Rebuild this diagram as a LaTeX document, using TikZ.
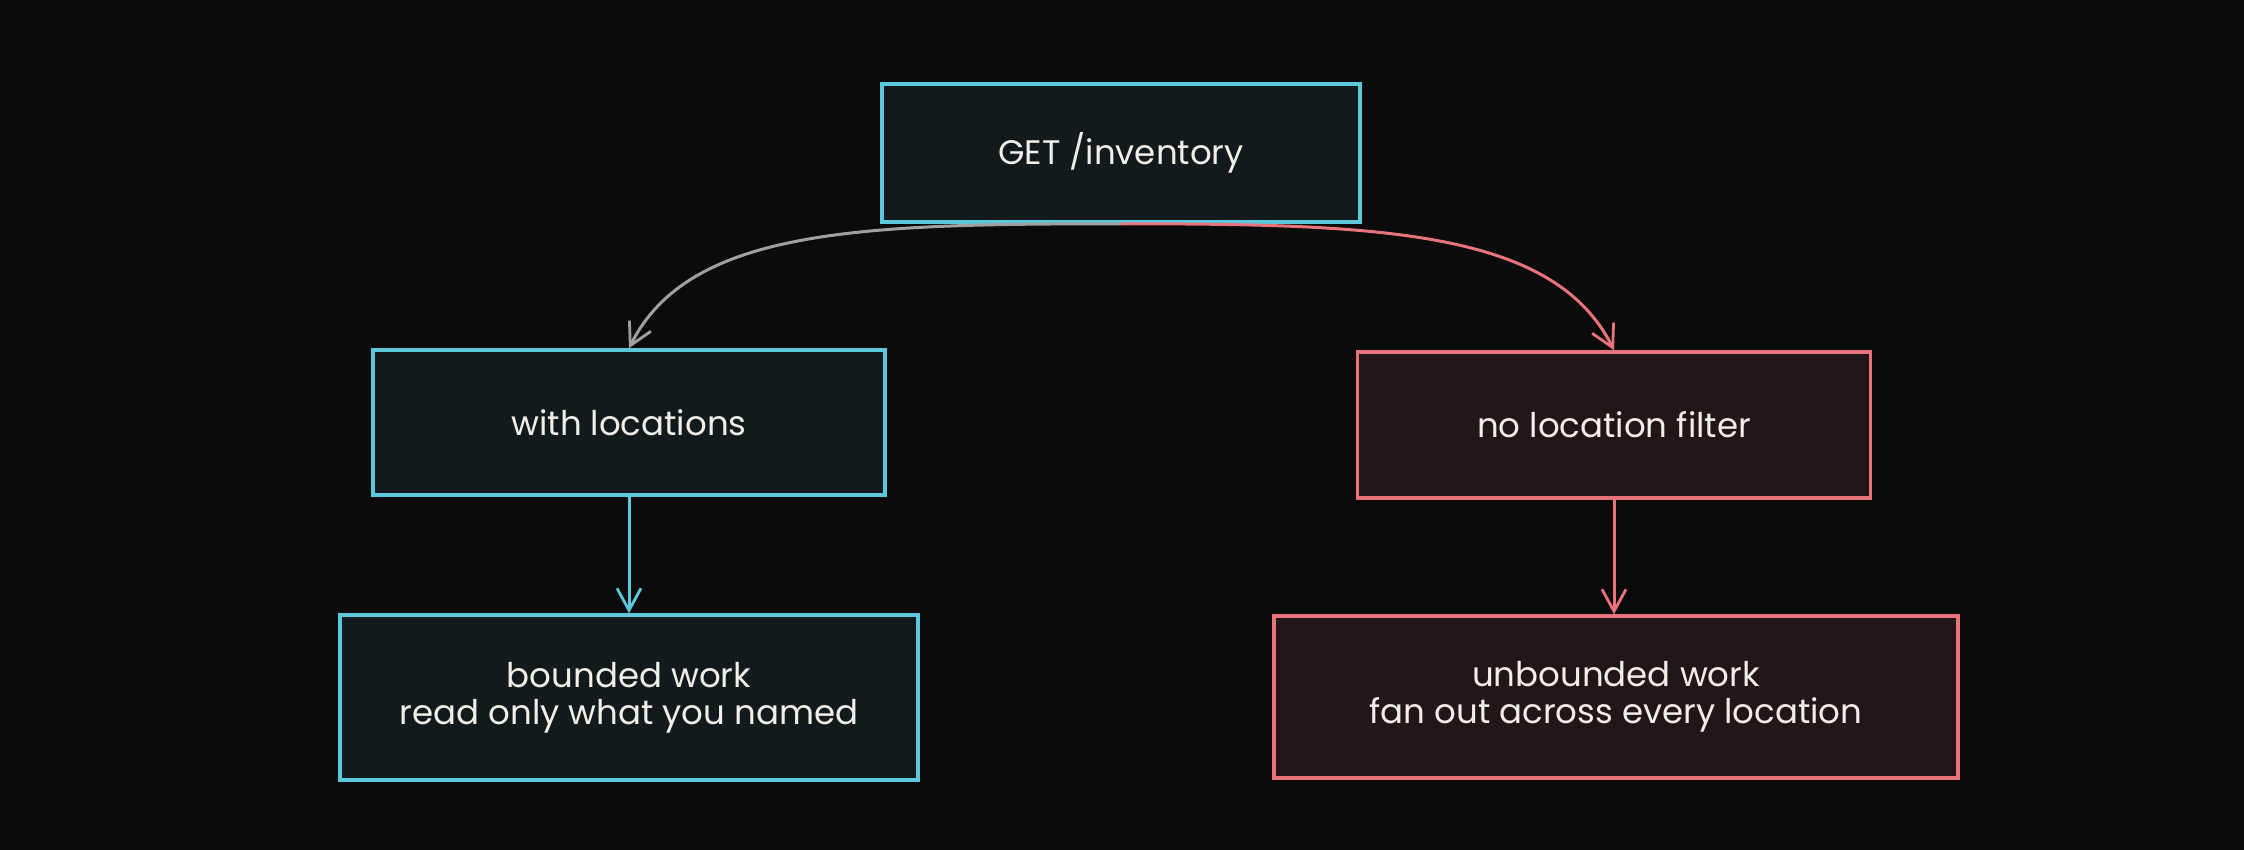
\documentclass[tikz,border=0pt]{standalone}
\usepackage{fontspec}
\setmainfont{Poppins}
\usetikzlibrary{arrows.meta}
\definecolor{bgc}{HTML}{0B0B0B}
\definecolor{cyanc}{HTML}{5BC8DC}
\definecolor{redc}{HTML}{E8737B}
\definecolor{grayc}{HTML}{A0A0A0}
\definecolor{bluefill}{HTML}{131A1D}
\definecolor{redfill}{HTML}{211719}
\definecolor{txtc}{HTML}{F2EFE8}
\tikzset{
  box/.style={rectangle, inner sep=0pt, line width=1.8pt, text=txtc, align=center,
    font=\fontsize{17}{18.5}\selectfont},
  bluebox/.style={box, draw=cyanc, fill=bluefill},
  redbox/.style={box, draw=redc, fill=redfill},
  arr/.style={line width=1.5pt, -{Straight Barb[length=11pt,width=12pt,line width=1.4pt]}},
}
\begin{document}
\begin{tikzpicture}[x=0.5pt,y=-0.5pt]
\fill[bgc] (0,0) rectangle (2244,850);
\useasboundingbox (0,0) rectangle (2244,850);

\node[bluebox, minimum width=239pt, minimum height=69pt] (get) at (1121,153) {GET /inventory};
\node[bluebox, minimum width=256pt, minimum height=72.5pt] (with) at (629,422.5) {with locations};
\node[redbox, minimum width=256.5pt, minimum height=73pt] (nof) at (1614,425) {no location filter};
\node[bluebox, minimum width=289pt, minimum height=82.5pt] (bnd) at (629,697.5) {bounded work\\read only what you named};
\node[redbox, minimum width=342pt, minimum height=81pt] (unb) at (1616,697) {unbounded work\\fan out across every location};

\draw[arr, grayc] (get.south) .. controls +(-260,0) and +(60,-120) .. (with.north);
\draw[arr, redc] (get.south) .. controls +(260,0) and +(-60,-120) .. (nof.north);
\draw[arr, cyanc] (with.south) -- (bnd.north);
\draw[arr, redc] (nof.south) -- (nof.south |- unb.north);
\end{tikzpicture}
\end{document}
